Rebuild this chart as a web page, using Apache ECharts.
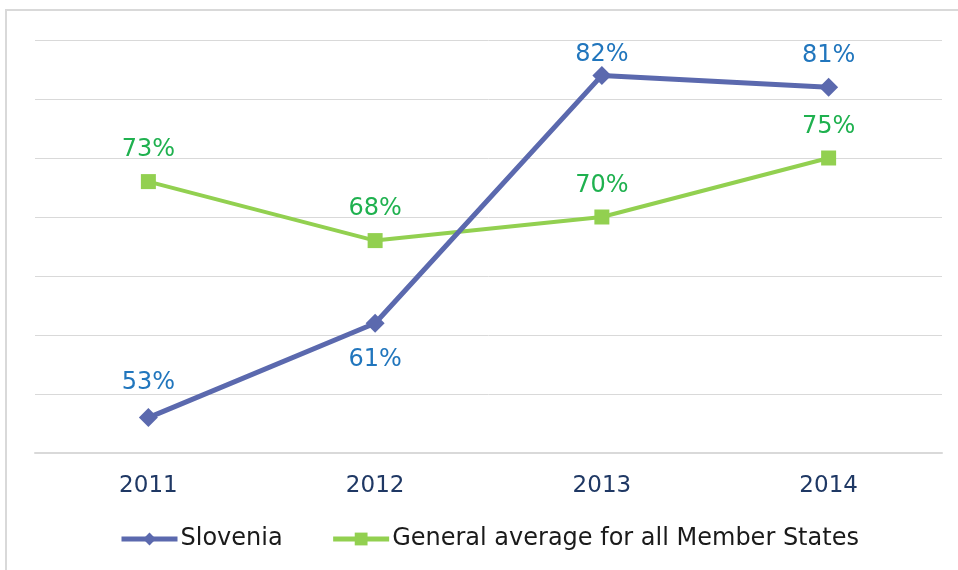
<!DOCTYPE html>
<html>
<head>
<meta charset="utf-8">
<script src="https://cdn.jsdelivr.net/npm/echarts@6/dist/echarts.min.js"></script>
<style>
  html, body { margin: 0; padding: 0; background: #fff; }
  #chart { width: 958px; height: 570px; }
</style>
</head>
<body>
<div id="chart"></div>
<script>
  const years = ['2011', '2012', '2013', '2014']
  const slovenia = [53, 61, 82, 81]
  const euAverage = [73, 68, 70, 75]

  const font = '"DejaVu Sans", Verdana, sans-serif'

  // label placement per point: Slovenia 2012 sits under its marker
  const sloLabel = [
    { distance: 13 },
    { position: 'bottom', distance: 15 },
    { distance: -1 },
    { distance: 10 }
  ]
  const sloData = slovenia.map((v, i) => ({ value: v, label: sloLabel[i] }))

  const chart = echarts.init(document.getElementById('chart'))
  chart.setOption({
    animation: false,
    textStyle: { fontFamily: font },
    graphic: [{
      type: 'rect',
      shape: { x: 6, y: 10, width: 1000, height: 620 },
      style: { fill: 'none', stroke: '#d9d9d9', lineWidth: 2 },
      silent: true
    }],
    grid: { left: 35, right: 16, top: 40, bottom: 117 },
    legend: {
      bottom: 14,
      left: 114,
      itemWidth: 56,
      itemHeight: 16,
      itemGap: 48,
      lineStyle: { width: 5 },
      textStyle: { fontFamily: font, fontSize: 24, color: '#1a1a1a', padding: [0, 0, 0, -2] },
      data: ['Slovenia', 'General average for all Member States']
    },
    xAxis: {
      type: 'category',
      data: years,
      axisLine: { lineStyle: { color: '#d9d9d9', width: 2 } },
      axisTick: { show: false },
      axisLabel: { color: '#1f3864', fontSize: 23, margin: 22, fontFamily: font }
    },
    yAxis: {
      type: 'value',
      min: 50,
      max: 85,
      interval: 5,
      axisLabel: { show: false },
      axisLine: { show: false },
      axisTick: { show: false },
      splitLine: { lineStyle: { color: '#d9d9d9', width: 1 } }
    },
    series: [
      {
        name: 'Slovenia',
        type: 'line',
        data: sloData,
        symbol: 'diamond',
        symbolSize: 19,
        z: 3,
        itemStyle: { color: '#5b69ae' },
        lineStyle: { color: '#5b69ae', width: 5 },
        label: {
          show: true,
          position: 'top',
          color: '#2176bd',
          fontSize: 24,
          fontFamily: font,
          formatter: '{c}%'
        }
      },
      {
        name: 'General average for all Member States',
        type: 'line',
        data: euAverage,
        symbol: 'rect',
        symbolSize: 15,
        z: 2,
        itemStyle: { color: '#92d050' },
        lineStyle: { color: '#92d050', width: 4 },
        label: {
          show: true,
          position: 'top',
          distance: 12,
          color: '#1fb14f',
          fontSize: 24,
          fontFamily: font,
          formatter: '{c}%'
        }
      }
    ]
  })
</script>
</body>
</html>
